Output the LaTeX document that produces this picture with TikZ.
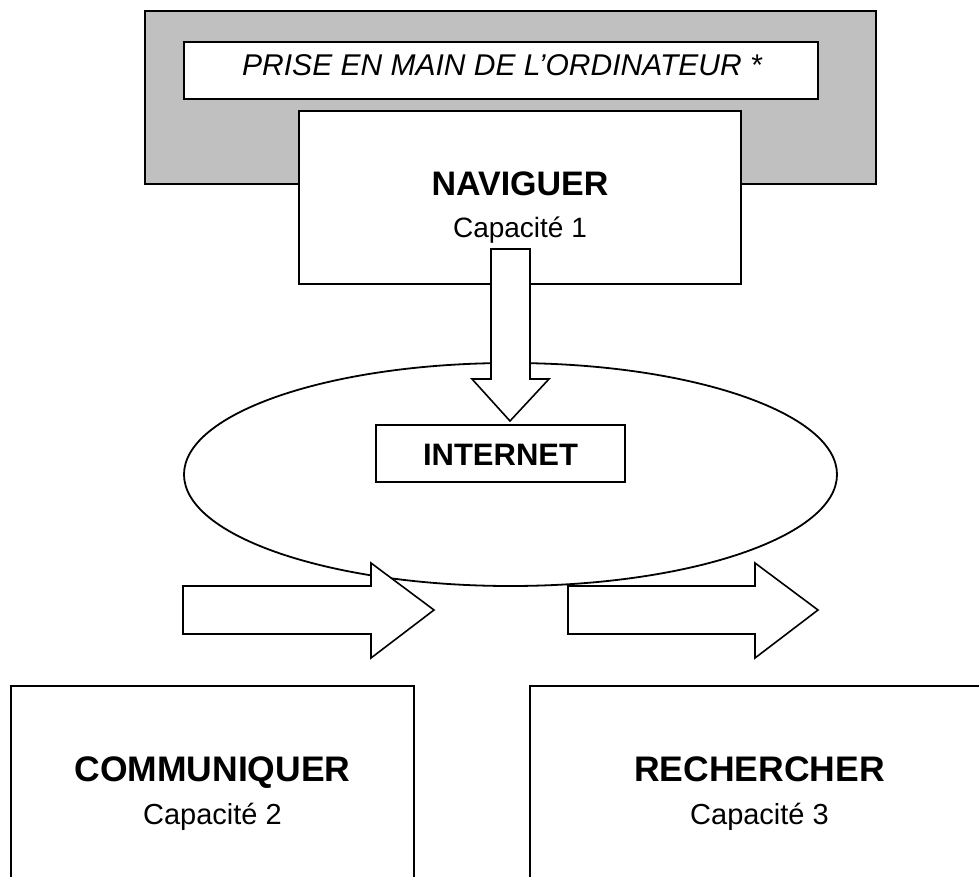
\documentclass[tikz,border=0pt]{standalone}
\usepackage{fontspec}
\setmainfont{Liberation Sans}
\usetikzlibrary{shapes.geometric}
\definecolor{panelgrey}{HTML}{C0C0C0}
\begin{document}
\begin{tikzpicture}[x=1pt,y=-1pt,
  line width=1.8pt,
  box/.style={draw=black, fill=white, line width=1.8pt, inner sep=0pt},
  blockarrow/.style={draw=black, fill=white, line width=1.6pt, line join=miter},
  bigtitle/.style={anchor=base, font=\bfseries\fontsize{34}{40}\selectfont, inner sep=0pt},
  lowtitle/.style={anchor=base, font=\bfseries\fontsize{35.5}{40}\selectfont, inner sep=0pt},
  midtitle/.style={anchor=base, font=\bfseries\fontsize{31}{36}\selectfont, inner sep=0pt},
  subtitle/.style={anchor=base, font=\fontsize{28}{34}\selectfont, inner sep=0pt},
  lowsub/.style={anchor=base, font=\fontsize{29}{34}\selectfont, inner sep=0pt},
  toptitle/.style={anchor=base, font=\itshape\fontsize{30}{34}\selectfont, inner sep=0pt}]
\useasboundingbox (0,0) rectangle (979,877);
\fill[white] (0,0) rectangle (979,877);
% grey frame
\node[box, fill=panelgrey, minimum width=731pt, minimum height=173pt] (frame) at (510.5,97.5) {};
\node[box, minimum width=634pt, minimum height=57pt] (prise) at (501,70.5) {};
\node[toptitle] (priset) at (502,76) {PRISE EN MAIN DE L'ORDINATEUR *};
% naviguer
\node[box, minimum width=442pt, minimum height=173pt] (nav) at (520,197.5) {};
\node[bigtitle] (navt) at (520,196) {NAVIGUER};
\node[subtitle] (navs) at (520,237) {Capacité 1};
% internet ellipse
\node[ellipse, draw=black, line width=1.8pt, minimum width=653pt, minimum height=223pt, inner sep=0pt] (cloud) at (510.5,474.5) {};
\node[box, minimum width=249pt, minimum height=57pt] (net) at (500.5,453.5) {};
\node[midtitle] (nett) at (500.5,465) {INTERNET};
% block arrows
\draw[blockarrow] (491,249) -- (530,249) -- (530,379) -- (549,379) -- (510,421) -- (472,379) -- (491,379) -- cycle;
\draw[blockarrow] (183,586) -- (371,586) -- (371,563) -- (434,610) -- (371,658) -- (371,634) -- (183,634) -- cycle;
\draw[blockarrow] (568,586) -- (755,586) -- (755,563) -- (818,610) -- (755,658) -- (755,634) -- (568,634) -- cycle;
% bottom boxes
\node[box, minimum width=403pt, minimum height=204pt] (comm) at (212.5,788) {};
\node[lowtitle] (commt) at (212.5,781) {COMMUNIQUER};
\node[lowsub] (comms) at (212.5,824) {Capacité 2};
\node[box, minimum width=459pt, minimum height=204pt] (rech) at (759.5,788) {};
\node[lowtitle] (recht) at (759.5,781) {RECHERCHER};
\node[lowsub] (rechs) at (759.5,824) {Capacité 3};
\end{tikzpicture}
\end{document}
